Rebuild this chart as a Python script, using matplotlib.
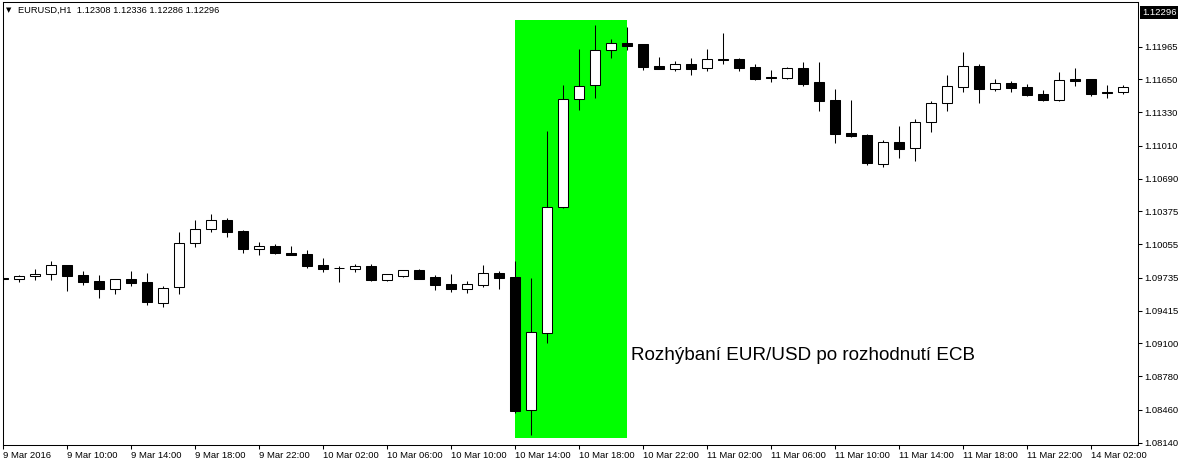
"""EUR/USD H1 candles around the ECB decision of 10 Mar 2016 (MT4-style chart)."""

import matplotlib

matplotlib.use("Agg")
import matplotlib.pyplot as plt
import matplotlib.transforms as mtransforms
from matplotlib.patches import Rectangle

plt.rcParams["font.family"] = ["Liberation Sans", "DejaVu Sans"]

# --- data (hourly bars, 9 Mar 06:00 .. 14 Mar 04:00, weekend skipped) ---
opens = [
    1.09731, 1.09724, 1.09747, 1.09767, 1.09856, 1.09760, 1.09702, 1.09627, 1.09721, 1.09692,
    1.09492, 1.09641, 1.10066, 1.10207, 1.10291, 1.10185, 1.10014, 1.10040, 1.09972, 1.09963,
    1.09856, 1.09830, 1.09821, 1.09847, 1.09714, 1.09753, 1.09808, 1.09740, 1.09673, 1.09627,
    1.09666, 1.09779, 1.09740, 1.08453, 1.09197, 1.10414, 1.11457, 1.11592, 1.11930, 1.12001,
    1.11991, 1.11779, 1.11752, 1.11798, 1.11762, 1.11846, 1.11846, 1.11769, 1.11669, 1.11666,
    1.11759, 1.11627, 1.11453, 1.11131, 1.11112, 1.10832, 1.11044, 1.10984, 1.11235, 1.11418,
    1.11579, 1.11776, 1.11559, 1.11611, 1.11573, 1.11505, 1.11447, 1.11650, 1.11650, 1.11525,
    1.11525,
]
highs = [
    1.09760, 1.09760, 1.09818, 1.09895, 1.09856, 1.09798, 1.09760, 1.09721, 1.09798, 1.09779,
    1.09653, 1.10175, 1.10291, 1.10349, 1.10310, 1.10194, 1.10078, 1.10059, 1.10040, 1.10001,
    1.09924, 1.09850, 1.09866, 1.09866, 1.09769, 1.09808, 1.09818, 1.09760, 1.09769, 1.09702,
    1.09856, 1.09798, 1.09895, 1.09731, 1.11151, 1.11595, 1.11943, 1.12175, 1.12039, 1.12155,
    1.11991, 1.11865, 1.11827, 1.11856, 1.11943, 1.12097, 1.11856, 1.11798, 1.11740, 1.11769,
    1.11817, 1.11817, 1.11556, 1.11453, 1.11122, 1.11064, 1.11199, 1.11267, 1.11443, 1.11692,
    1.11914, 1.11795, 1.11650, 1.11631, 1.11602, 1.11547, 1.11721, 1.11759, 1.11650, 1.11592,
    1.11592,
]
lows = [
    1.09673, 1.09695, 1.09712, 1.09712, 1.09605, 1.09663, 1.09541, 1.09576, 1.09653, 1.09473,
    1.09454, 1.09579, 1.10033, 1.10178, 1.10130, 1.09975, 1.09956, 1.09966, 1.09956, 1.09830,
    1.09792, 1.09695, 1.09792, 1.09705, 1.09705, 1.09743, 1.09724, 1.09618, 1.09598, 1.09589,
    1.09647, 1.09627, 1.08430, 1.08214, 1.09100, 1.10407, 1.11356, 1.11472, 1.11859, 1.11936,
    1.11743, 1.11752, 1.11733, 1.11695, 1.11733, 1.11801, 1.11733, 1.11646, 1.11627, 1.11656,
    1.11588, 1.11347, 1.11038, 1.11096, 1.10825, 1.10800, 1.10893, 1.10861, 1.11144, 1.11347,
    1.11530, 1.11424, 1.11540, 1.11530, 1.11486, 1.11443, 1.11438, 1.11588, 1.11492, 1.11472,
    1.11511,
]
closes = [
    1.09721, 1.09750, 1.09769, 1.09853, 1.09753, 1.09695, 1.09627, 1.09721, 1.09685, 1.09502,
    1.09634, 1.10069, 1.10204, 1.10291, 1.10178, 1.10014, 1.10037, 1.09975, 1.09956, 1.09850,
    1.09821, 1.09824, 1.09847, 1.09712, 1.09769, 1.09808, 1.09724, 1.09666, 1.09627, 1.09673,
    1.09779, 1.09734, 1.08449, 1.09206, 1.10414, 1.11460, 1.11585, 1.11933, 1.12001, 1.11975,
    1.11772, 1.11752, 1.11798, 1.11752, 1.11846, 1.11839, 1.11762, 1.11656, 1.11663, 1.11759,
    1.11608, 1.11443, 1.11125, 1.11105, 1.10839, 1.11044, 1.10980, 1.11235, 1.11418, 1.11582,
    1.11776, 1.11559, 1.11611, 1.11569, 1.11501, 1.11453, 1.11640, 1.11637, 1.11511, 1.11518,
    1.11573,
]

# x tick every 4 bars
time_labels = [
    "9 Mar 2016", "9 Mar 10:00", "9 Mar 14:00", "9 Mar 18:00", "9 Mar 22:00",
    "10 Mar 02:00", "10 Mar 06:00", "10 Mar 10:00", "10 Mar 14:00", "10 Mar 18:00",
    "10 Mar 22:00", "11 Mar 02:00", "11 Mar 06:00", "11 Mar 10:00", "11 Mar 14:00",
    "11 Mar 18:00", "11 Mar 22:00", "14 Mar 02:00",
]
price_ticks = [
    1.11965, 1.11650, 1.11330, 1.11010, 1.10690, 1.10375, 1.10055,
    1.09735, 1.09415, 1.09100, 1.08780, 1.08460, 1.08140,
]
header = "EURUSD,H1  1.12308 1.12336 1.12286 1.12296"
last_price = 1.12296

# highlighted ECB reaction window (bars) and its price span
zone_bars = (32, 39)
zone_prices = (1.08185, 1.12223)
note = "Rozhýbaní EUR/USD po rozhodnutí ECB"

W, H = 1184, 465
fig = plt.figure(figsize=(W / 100, H / 100), dpi=100)
ax = fig.add_axes([3 / W, 20 / H, 1135 / W, 443 / H])

ax.add_patch(
    Rectangle(
        (zone_bars[0], zone_prices[0]),
        zone_bars[1] - zone_bars[0],
        zone_prices[1] - zone_prices[0],
        facecolor="#00ff00",
        edgecolor="none",
        zorder=1,
    )
)

xs = list(range(len(opens)))
ax.vlines(xs, lows, highs, color="black", linewidth=0.75, zorder=2)
bottoms = [min(o, c) for o, c in zip(opens, closes)]
heights = [abs(c - o) for o, c in zip(opens, closes)]
faces = ["white" if c >= o else "black" for o, c in zip(opens, closes)]
ax.bar(xs, heights, bottom=bottoms, width=0.63, color=faces,
       edgecolor="black", linewidth=0.75, zorder=3)

ax.text(39.25, 1.08939, note, fontsize=13.6, va="baseline", ha="left", zorder=4)

ax.set_xlim(-0.02, 70.94)
ax.set_ylim(1.08118, 1.12397)

ax.set_xticks(xs[::4][: len(time_labels)])
ax.set_xticklabels(time_labels)
for lbl in ax.get_xticklabels():
    lbl.set_horizontalalignment("left")
ax.yaxis.tick_right()
ax.set_yticks(price_ticks)
ax.set_yticklabels([f"{p:.5f}" for p in price_ticks])
ax.tick_params(axis="x", direction="out", length=3, width=0.75, pad=1.5, labelsize=6.8)
ax.tick_params(axis="y", direction="out", length=3, width=0.75, pad=1.5, labelsize=6.8)
for sp in ax.spines.values():
    sp.set_linewidth(0.75)

# current price box on the right scale
trans = mtransforms.blended_transform_factory(ax.transAxes, ax.transData)
ax.text(1.0 + 4 / 1135, last_price, f"{last_price:.5f}", transform=trans,
        color="white", fontsize=6.8, va="center", ha="left",
        bbox=dict(facecolor="black", edgecolor="none", pad=1.4))

fig.text(6 / W, 1 - 10 / H, "▼", family="DejaVu Sans", fontsize=5, va="center")
fig.text(18 / W, 1 - 10 / H, header, fontsize=6.7, va="center")

fig.savefig("out.png", dpi=100)
